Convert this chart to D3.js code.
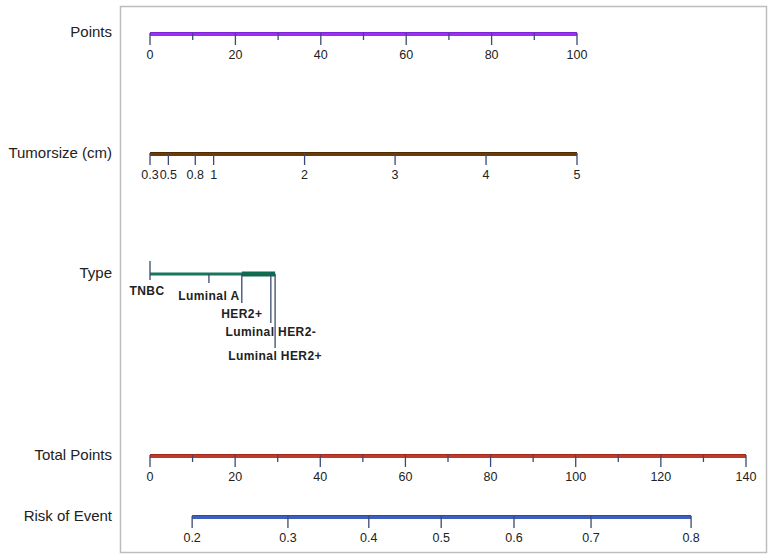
<!DOCTYPE html>
<html lang="en">
<head>
    <meta charset="UTF-8">
    <title>Nomogram</title>
    <script src="https://d3js.org/d3.v7.min.js"></script>
    <style>
        body { margin: 0; background: #fff; font-family: "Liberation Sans", Arial, sans-serif; }
        svg text { fill: #222; }
    </style>
</head>
<body>
    <div id="chart"></div>

    <script>
        // Points axis
        const pointTicks = [0, 20, 40, 60, 80, 100];
        const pointMinor = [10, 30, 50, 70, 90];

        // Tumorsize (cm): label -> points
        const sizeLabels = ["0.3", "0.5", "0.8", "1", "2", "3", "4", "5"];
        const sizePoints = [0, 4.3, 10.6, 14.9, 36.2, 57.4, 78.7, 100];

        // Type: category -> points
        const typeNames = ["TNBC", "Luminal A", "HER2+", "Luminal HER2-", "Luminal HER2+"];
        const typePoints = [0, 13.8, 21.5, 28.3, 29.3];

        // Total points axis
        const totalTicks = [0, 20, 40, 60, 80, 100, 120, 140];
        const totalMinor = [10, 30, 50, 70, 90, 110, 130];

        // Risk of event: label -> total points
        const riskLabels = ["0.2", "0.3", "0.4", "0.5", "0.6", "0.7", "0.8"];
        const riskTotal = [9.9, 32.4, 51.4, 68.4, 85.5, 103.6, 127.1];

        const width = 774, height = 560;
        const svg = d3.select("#chart").append("svg")
            .attr("width", width)
            .attr("height", height);

        // frame
        svg.append("rect")
            .attr("x", 120.5).attr("y", 6.5)
            .attr("width", 646).attr("height", 546)
            .attr("fill", "none")
            .attr("stroke", "#bdbdbd")
            .attr("stroke-width", 1.5);

        const x = d3.scaleLinear().domain([0, 100]).range([150, 577]);
        const xt = d3.scaleLinear().domain([0, 140]).range([150, 746]);
        const tickColor = "#3a4a72";

        function rowLabel(text, y) {
            svg.append("text")
                .attr("x", 112).attr("y", y)
                .attr("text-anchor", "end")
                .attr("dy", "0.35em")
                .attr("font-size", 15)
                .text(text);
        }

        function drawAxis(y, scale, majors, labels, minors, color, dark) {
            const g = svg.append("g");
            const x0 = scale(d3.min(majors)), x1 = scale(d3.max(majors));
            g.append("line")
                .attr("x1", x0).attr("x2", x1)
                .attr("y1", y).attr("y2", y)
                .attr("stroke", color).attr("stroke-width", 4);
            g.append("line")
                .attr("x1", x0).attr("x2", x1)
                .attr("y1", y - 1.5).attr("y2", y - 1.5)
                .attr("stroke", dark).attr("stroke-width", 1).attr("opacity", 0.6);
            g.selectAll(".major").data(majors).enter().append("line")
                .attr("x1", d => scale(d)).attr("x2", d => scale(d))
                .attr("y1", y - 1).attr("y2", y + 11)
                .attr("stroke", tickColor).attr("stroke-width", 1.3);
            g.selectAll(".minor").data(minors).enter().append("line")
                .attr("x1", d => scale(d)).attr("x2", d => scale(d))
                .attr("y1", y - 1).attr("y2", y + 6)
                .attr("stroke", tickColor).attr("stroke-width", 1.3);
            g.selectAll("text").data(majors).enter().append("text")
                .attr("x", d => scale(d)).attr("y", y + 21)
                .attr("dy", "0.35em")
                .attr("text-anchor", "middle")
                .attr("font-size", 12.5)
                .text((d, i) => labels[i]);
        }

        // Points
        rowLabel("Points", 32);
        drawAxis(34, x, pointTicks, pointTicks.map(String), pointMinor, "#9b30f5", "#6a1fc0");

        // Tumorsize
        rowLabel("Tumorsize (cm)", 153);
        drawAxis(154, x, sizePoints, sizeLabels, [], "#6b3c05", "#3b2000");

        // Type
        rowLabel("Type", 273);
        const typeY = 274;
        svg.append("line")
            .attr("x1", x(0)).attr("x2", x(d3.max(typePoints)))
            .attr("y1", typeY).attr("y2", typeY)
            .attr("stroke", "#17775e").attr("stroke-width", 3);
        svg.append("line")
            .attr("x1", x(typePoints[2])).attr("x2", x(d3.max(typePoints)))
            .attr("y1", typeY).attr("y2", typeY)
            .attr("stroke", "#0f6a50").attr("stroke-width", 5);
        const typeTickEnd = [280, 283, 303, 323, 348];
        const typeLabelY = [291, 296, 314, 332, 356];
        svg.selectAll(".ttick").data(typePoints).enter().append("line")
            .attr("x1", d => x(d)).attr("x2", d => x(d))
            .attr("y1", (d, i) => i === 0 ? 261 : typeY)
            .attr("y2", (d, i) => typeTickEnd[i])
            .attr("stroke", tickColor).attr("stroke-width", 1.3);
        svg.selectAll(".tlabel").data(typePoints).enter().append("text")
            .attr("x", (d, i) => i === 0 ? x(d) - 3 : x(d))
            .attr("y", (d, i) => typeLabelY[i])
            .attr("dy", "0.35em")
            .attr("text-anchor", "middle")
            .attr("font-size", 12)
            .attr("font-weight", "bold")
            .attr("letter-spacing", 0.4)
            .attr("fill", "#333")
            .text((d, i) => typeNames[i]);

        // Total Points
        rowLabel("Total Points", 455);
        drawAxis(456, xt, totalTicks, totalTicks.map(String), totalMinor, "#c23b2a", "#8a2010");

        // Risk of Event
        rowLabel("Risk of Event", 516);
        drawAxis(517, xt, riskTotal, riskLabels, [], "#3f5fbf", "#2a3f8f");
    </script>
</body>
</html>
